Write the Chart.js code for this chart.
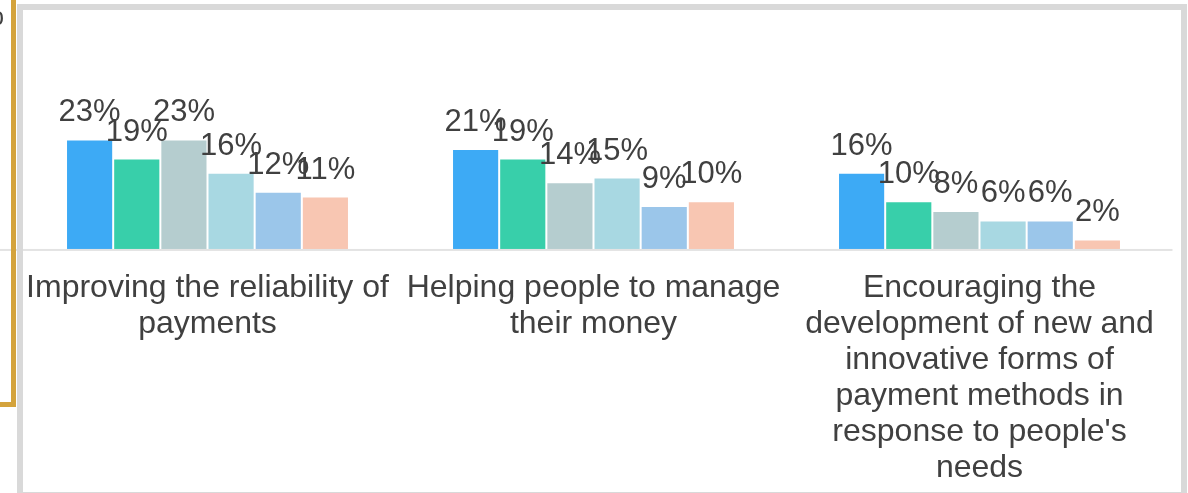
<!DOCTYPE html>
<html>
<head>
<meta charset="utf-8">
<script src="https://cdn.jsdelivr.net/npm/chart.js@4/dist/chart.umd.min.js"></script>
<style>
  html, body { margin: 0; padding: 0; background: #ffffff; }
  #wrap { position: relative; width: 1188px; height: 493px; }
</style>
</head>
<body>
<div id="wrap"><canvas id="grafico"></canvas></div>
<script>
// categories (multi-line tick labels)
var categorias = [
    ['Improving the reliability of', 'payments'],
    ['Helping people to manage', 'their money'],
    ['Encouraging the', 'development of new and', 'innovative forms of', 'payment methods in', "response to people's", 'needs']
];

// one array per series, values in %
var serie1 = [23, 21, 16];
var serie2 = [19, 19, 10];
var serie3 = [23, 14, 8];
var serie4 = [16, 15, 6];
var serie5 = [12, 9, 6];
var serie6 = [11, 10, 2];

var nomesSeries = ['Group 1', 'Group 2', 'Group 3', 'Group 4', 'Group 5', 'Group 6'];
var cores = ['#3DAAF5', '#38CFAA', '#B5CDCF', '#A8D8E2', '#9BC6EA', '#F8C6B2'];

var fonte = '"Liberation Sans", Arial, sans-serif';
var corTexto = '#404040';

// percentage labels above each bar
var rotulos = {
    id: 'rotulos',
    afterDatasetsDraw: function(chart) {
        var ctx = chart.ctx;
        ctx.save();
        ctx.font = '31px ' + fonte;
        ctx.fillStyle = corTexto;
        ctx.textAlign = 'center';
        ctx.textBaseline = 'alphabetic';
        chart.data.datasets.forEach(function(ds, i) {
            chart.getDatasetMeta(i).data.forEach(function(bar, j) {
                ctx.fillText(ds.data[j] + '%', bar.x, bar.y - 18);
            });
        });
        ctx.restore();
    }
};

// axis line, slide frame and the gold outline on the left
var moldura = {
    id: 'moldura',
    afterDraw: function(chart) {
        var ctx = chart.ctx;
        var area = chart.chartArea;
        ctx.save();
        ctx.fillStyle = '#E3E3E3';
        ctx.fillRect(0, area.bottom, area.right, 2);

        ctx.strokeStyle = '#D9D9D9';
        ctx.lineWidth = 6;
        ctx.strokeRect(20, 7, 1164, 488);

        ctx.fillStyle = '#D4A33C';
        ctx.fillRect(11, 0, 5, 407);
        ctx.fillRect(0, 402, 16, 5);

        ctx.font = '31px ' + fonte;
        ctx.fillStyle = corTexto;
        ctx.textAlign = 'right';
        ctx.fillText('%', 4, 25);
        ctx.restore();
    }
};

var conjuntos = [serie1, serie2, serie3, serie4, serie5, serie6].map(function(valores, i) {
    return {
        label: nomesSeries[i],
        data: valores,
        backgroundColor: cores[i],
        borderColor: 'rgba(255,255,255,0.22)',
        borderWidth: 1,
        categoryPercentage: 0.733,
        barPercentage: 1
    };
});

var ctx = document.getElementById('grafico').getContext('2d');
var grafico = new Chart(ctx, {
    type: 'bar',
    data: {
        labels: categorias,
        datasets: conjuntos
    },
    options: {
        responsive: true,
        maintainAspectRatio: false,
        animation: false,
        layout: {
            padding: { left: 14.5, right: 15.5, top: 11, bottom: 6.1 }
        },
        plugins: {
            legend: { display: false },
            tooltip: { enabled: false }
        },
        scales: {
            x: {
                grid: { display: false, drawTicks: false },
                border: { display: false },
                ticks: {
                    color: corTexto,
                    padding: 20.9,
                    maxRotation: 0,
                    autoSkip: false,
                    font: { family: fonte, size: 32, lineHeight: 1.125 }
                }
            },
            y: {
                display: false,
                min: 0,
                max: 50
            }
        }
    },
    plugins: [rotulos, moldura]
});
</script>
</body>
</html>
